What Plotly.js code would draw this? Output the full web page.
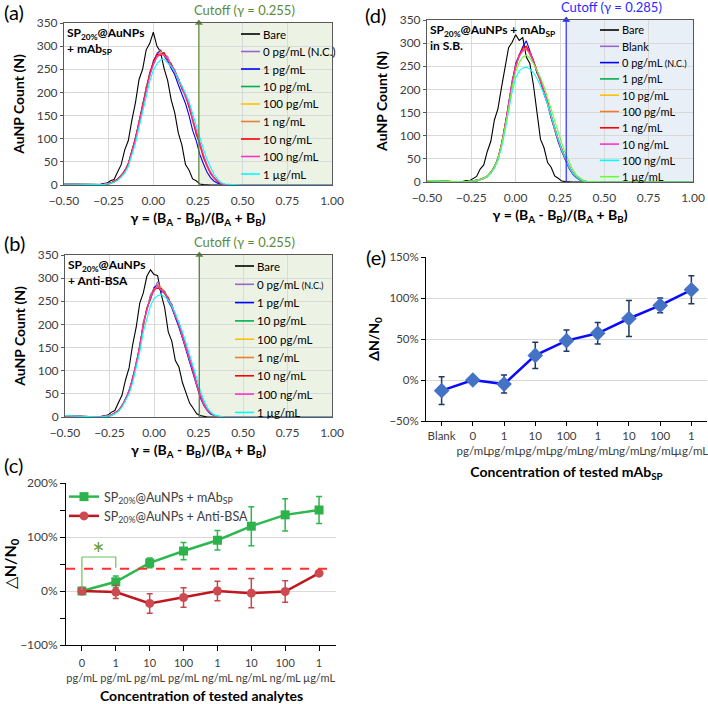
<!DOCTYPE html>
<html lang="en">
<head>
<meta charset="UTF-8">
<title>AuNP counts and ΔN/N0</title>
<script src="https://cdn.plot.ly/plotly-3.0.1.min.js"></script>
<style>
  body { margin: 0; background: #fff; }
  #chart { width: 708px; height: 704px; }
</style>
</head>
<body>
<div id="chart"></div>
<script>
// ---- data ----
const gammaBins = [-0.50, -0.40, -0.30, -0.28, -0.26, -0.24, -0.22, -0.20, -0.18, -0.16, -0.14, -0.12,
  -0.10, -0.08, -0.06, -0.04, -0.02, 0.00, 0.02, 0.04, 0.06, 0.08, 0.10, 0.12, 0.14, 0.16, 0.18, 0.20,
  0.22, 0.24, 0.26, 0.28, 0.30, 0.32, 0.34, 0.36, 0.38, 0.40, 0.50, 1.00];

// (a) SP20%@AuNPs + mAbSP
const aBare  = [2,1, 1,3,4,9,12,28,44,76,96,140,178,228,250,292,306,330,300,288,252,226,184,156,112,86,44,32,13,9,2,1,0,0,0,0,0,0, 0,0];
const aNC    = [2,1, 1,0,3,3,8,11,22,28,48,70,104,132,176,204,244,266,285,292,280,278,256,250,224,214,188,174,136,116,84,64,40,28,13,9,2,1, 0,0];
const a1pg   = [2,1, 0,2,1,5,6,13,19,32,44,75,98,138,168,212,236,268,282,290,280,268,252,238,216,196,176,150,118,96,66,46,28,16,8,4,2,0, 0,0];
const a10pg  = [2,1, 1,1,2,4,8,11,21,29,47,70,103,133,172,206,241,259,281,283,286,270,263,243,231,207,195,168,143,110,90,60,44,25,16,7,3,1, 0,0];
const a100pg = [2,1, 0,1,3,3,7,13,19,31,44,74,98,137,168,210,236,264,276,288,280,274,258,247,226,212,190,172,138,114,86,64,40,27,14,8,3,1, 0,0];
const a1ng   = [2,1, 1,1,2,5,6,12,21,30,46,71,101,134,171,207,239,261,279,284,284,271,261,244,229,209,193,169,141,111,89,61,43,26,15,8,3,1, 0,0];
const a10ng  = [2,1, 0,2,2,4,8,13,20,31,46,73,102,137,173,210,242,265,282,280,286,270,262,242,230,208,194,168,142,110,90,60,43,25,16,7,4,1, 0,0];
const a100ng = [2,1, 1,1,3,4,7,11,19,29,44,70,98,133,168,205,236,260,276,283,280,274,258,248,230,214,194,174,144,116,92,66,45,28,16,9,3,1, 0,0];
const a1ug   = [2,1, 0,1,2,3,6,10,17,26,40,64,90,124,158,194,224,248,262,270,272,264,256,244,230,214,198,180,154,128,104,78,56,38,22,12,5,2, 0,0];

// (b) SP20%@AuNPs + Anti-BSA
const bBare  = [3,1, 1,3,4,10,14,31,47,80,106,156,194,246,268,304,318,308,306,266,236,184,164,122,108,74,52,30,19,7,3,1,0,0,0,0,0,0, 0,0];
const bNC    = [3,1, 1,0,3,3,9,13,26,36,59,80,119,150,206,230,264,276,292,278,272,252,244,216,204,170,154,120,104,68,48,26,16,7,4,1,0,0, 0,0];
const b1pg   = [3,1, 0,2,1,5,7,15,23,40,54,86,112,156,198,236,254,280,284,270,270,250,236,216,194,170,144,120,94,66,42,25,13,6,3,1,0,0, 0,0];
const b10pg  = [3,1, 1,1,2,4,9,13,25,37,58,80,118,150,203,230,262,272,284,274,272,254,244,218,204,173,154,123,104,70,48,27,16,8,3,1,0,0, 0,0];
const b100pg = [3,1, 0,1,3,4,7,15,23,39,55,84,113,155,198,234,256,277,278,280,266,259,238,223,198,178,148,127,98,74,45,29,14,9,3,1,0,0, 0,0];
const b1ng   = [3,1, 1,1,2,5,8,14,25,37,57,81,117,150,202,230,260,272,286,274,270,254,242,218,202,173,152,123,102,70,47,27,15,8,3,1,0,0, 0,0];
const b10ng  = [3,1, 0,2,2,4,9,14,23,39,55,84,114,154,199,234,257,276,278,278,266,258,238,222,198,177,148,127,98,74,45,29,15,8,3,1,0,0, 0,0];
const b100ng = [3,1, 1,1,2,4,8,13,24,38,57,81,116,151,201,231,259,273,282,275,269,255,241,219,201,174,151,124,101,71,47,28,15,8,3,1,0,0, 0,0];
const b1ug   = [3,1, 0,1,2,3,7,12,21,34,50,74,104,140,184,214,240,256,262,264,260,252,240,224,206,184,160,136,112,84,58,36,20,10,4,2,1,0, 0,0];

// (d) SP20%@AuNPs + mAbSP in S.B.
const dBare   = [3,1, 1,3,3,8,12,28,37,66,88,134,158,204,246,290,302,318,306,312,270,256,210,154,92,74,42,32,13,8,2,1,0,0,0,0,0,0, 0,0];
const dBlank  = [3,1, 0,1,0,2,4,5,9,11,22,30,53,78,124,162,220,247,276,282,292,275,264,236,222,192,174,139,118,88,72,48,35,19,13,5,3,1, 0,0];
const dNC     = [3,1, 0,0,1,3,2,6,7,13,19,34,48,83,118,170,212,256,274,292,305,284,262,236,220,190,168,138,112,86,66,46,30,18,10,5,2,1, 0,0];
const d1pg    = [3,1, 0,1,1,2,4,5,9,12,21,32,51,80,121,166,214,251,271,286,287,279,259,241,217,196,169,143,114,91,69,51,33,21,11,6,3,1, 0,0];
const d10pg   = [3,1, 0,0,2,2,3,6,8,13,20,33,50,82,119,167,213,252,270,288,285,281,258,243,216,198,168,145,113,93,68,53,32,22,11,7,2,1, 0,0];
const d100pg  = [3,1, 0,1,1,3,3,5,9,12,22,31,52,79,122,164,217,249,274,283,290,276,262,239,220,194,172,141,117,89,72,49,35,20,13,6,3,1, 0,0];
const d1ng    = [3,1, 0,0,1,2,4,6,8,13,20,33,50,81,120,167,215,252,273,289,294,280,262,240,220,196,172,143,117,91,71,51,34,21,12,6,3,1, 0,0];
const d10ng   = [3,1, 0,1,2,2,3,5,9,12,21,32,51,80,121,165,216,250,272,284,287,279,260,242,218,197,171,144,116,92,70,52,35,21,12,7,3,1, 0,0];
const d100ng  = [3,1, 0,0,1,2,3,5,8,12,19,30,47,74,110,150,195,225,240,246,248,244,236,224,208,190,168,142,116,92,70,50,34,20,12,6,3,1, 0,0];
const d1ug    = [3,1, 0,1,1,2,3,6,8,13,20,32,50,78,116,158,204,238,258,270,274,268,256,242,226,206,184,158,132,106,84,62,44,28,16,9,4,1, 0,0];

const namesA = ['Bare', '0 pg/mL (N.C.)', '1 pg/mL', '10 pg/mL', '100 pg/mL', '1 ng/mL', '10 ng/mL', '100 ng/mL', '1 µg/mL'];
const namesB = ['Bare', '0 pg/mL <span style="font-size:9px">(N.C.)</span>', '1 pg/mL', '10 pg/mL', '100 pg/mL', '1 ng/mL', '10 ng/mL', '100 ng/mL', '1 µg/mL'];
const namesD = ['Bare', 'Blank', '0 pg/mL <span style="font-size:9px">(N.C.)</span>', '1 pg/mL', '10 pg/mL', '100 pg/mL', '1 ng/mL', '10 ng/mL', '100 ng/mL', '1 µg/mL'];
const cutoffA = 0.255, cutoffB = 0.255, cutoffD = 0.285;

// (c) delta N / N0 vs analyte concentration
const concC = ['0<br>pg/mL', '1<br>pg/mL', '10<br>pg/mL', '100<br>pg/mL', '1<br>ng/mL', '10<br>ng/mL', '100<br>ng/mL', '1<br>µg/mL'];
const mAbSP = [0, 17, 52, 74, 94, 120, 141, 150];
const mAbSPErr = [0, 11, 9, 16, 18, 36, 30, 25];
const antiBSA = [0, -2, -23, -12, 0, -4, -1, 33];
const antiBSAErr = [0, 12, 18, 18, 18, 27, 20, 0];
const thresholdC = 41;
const sigPair = [0, 1], sigTop = 63, sigRightFoot = 43, sigLeftFoot = 2;

// (e) delta N / N0 in S.B.
const concE = ['Blank', '0<br>pg/mL', '1<br>pg/mL', '10<br>pg/mL', '100<br>pg/mL', '1<br>ng/mL', '10<br>ng/mL', '100<br>ng/mL', '1<br>µg/mL'];
const sbValues = [-13, 0, -5, 30, 48, 57, 75, 91, 110];
const sbErr = [17, 0, 11, 16, 13, 13, 22, 9, 17];

// ---- drawing ----
const W = 708, H = 704;
const fx = p => p / W;
const fy = p => 1 - p / H;
const FONT = 'Lato, "Open Sans", sans-serif';
const INK = '#404040';
const colorsA = ['#000000', '#9966cc', '#0000ff', '#00b050', '#ffc000', '#ed7d31', '#ff0000', '#ff33cc', '#00ffff'];
const colorsD = ['#000000', '#9966cc', '#0000ff', '#00b050', '#ffc000', '#ed7d31', '#ff0000', '#ff33cc', '#00ffff', '#66ff33'];
const GAMMA = '<b>γ = (B<sub>A</sub> - B<sub>B</sub>)/(B<sub>A</sub> + B<sub>B</sub>)</b>';

const traces = [], shapes = [], annotations = [];
const layout = {
  width: W, height: H,
  margin: { l: 0, r: 0, t: 0, b: 0 },
  paper_bgcolor: '#fff', plot_bgcolor: 'rgba(0,0,0,0)',
  font: { family: FONT, color: INK },
  showlegend: true,
  shapes: shapes, annotations: annotations
};

function histPanel(n, counts, names, colors, cutoff, cutColor, shade, box, key, tag, cutText) {
  const xr = 'x' + n, yr = 'y' + n;
  const xk = 'xaxis' + n, yk = 'yaxis' + n;
  layout[xk] = {
    domain: [fx(box[0]), fx(box[1])], anchor: yr, range: [-0.5, 1.0], dtick: 0.25, tickformat: '.2f',
    showline: true, mirror: true, linecolor: '#595959', gridcolor: '#d9d9d9', zeroline: false,
    tickangle: 0, ticklabelstandoff: 5,
    tickfont: { size: 12, color: INK },
    title: { text: GAMMA, font: { size: 14, color: '#000' }, standoff: 5 }
  };
  layout[yk] = {
    domain: [fy(box[3]), fy(box[2])], anchor: xr, range: [0, 350], dtick: 50,
    showline: true, mirror: true, linecolor: '#595959', gridcolor: '#d9d9d9', zeroline: false,
    ticks: 'outside', ticklen: 3, tickcolor: '#595959',
    tickfont: { size: 12, color: INK },
    title: { text: '<b>AuNP Count (N)</b>', font: { size: 14, color: '#000' }, standoff: 8 }
  };
  shapes.push({ type: 'rect', xref: xr, yref: yr + ' domain', x0: cutoff, x1: 1, y0: 0, y1: 1,
    fillcolor: shade, line: { width: 0 }, layer: 'below' });
  shapes.push({ type: 'line', xref: xr, yref: yr + ' domain', x0: cutoff, x1: cutoff, y0: 0, y1: 1,
    line: { color: cutColor, width: 1.2 } });
  counts.forEach((c, i) => traces.push({
    x: gammaBins, y: c, xaxis: xr, yaxis: yr, type: 'scatter', mode: 'lines',
    line: { color: colors[i], width: 1.1 }, showlegend: false, hoverinfo: 'skip'
  }));
  traces.push({ x: [cutoff], y: [350], xaxis: xr, yaxis: yr, type: 'scatter', mode: 'markers',
    marker: { symbol: 'triangle-up', size: 7, color: cutColor }, cliponaxis: false,
    showlegend: false, hoverinfo: 'skip' });
  // key drawn by hand so the rows can sit as tight as in the original
  names.forEach((name, i) => {
    const yy = fy(key.top + i * key.step);
    shapes.push({ type: 'line', xref: 'paper', yref: 'paper', x0: fx(key.x), x1: fx(key.x + 19), y0: yy, y1: yy,
      line: { color: colors[i], width: 1.6 } });
    annotations.push({ xref: 'paper', yref: 'paper', x: fx(key.x + 20), y: yy, xanchor: 'left', yanchor: 'middle',
      text: name, showarrow: false, font: { size: key.size, color: '#000' } });
  });
  annotations.push({ xref: xr + ' domain', yref: yr + ' domain', x: 0.005, y: 1, xanchor: 'left', yanchor: 'top',
    align: 'left', text: tag, showarrow: false, font: { size: 12, color: '#000' } });
  annotations.push({ xref: xr, yref: 'paper', x: cutoff, xshift: -7, y: fy(cutText), xanchor: 'left', yanchor: 'middle',
    text: 'Cutoff (γ = ' + cutoff + ')', showarrow: false, font: { size: 13, color: cutColor } });
}

histPanel('', [aBare, aNC, a1pg, a10pg, a100pg, a1ng, a10ng, a100ng, a1ug], namesA, colorsA,
  cutoffA, '#5b8a3a', 'rgba(200,220,180,0.35)', [64, 332, 23, 185],
  { x: 241, top: 34, step: 17.5, size: 11.5 },
  '<b>SP<sub>20%</sub>@AuNPs<br>+ mAb<sub>SP</sub></b>', 10);
histPanel('2', [bBare, bNC, b1pg, b10pg, b100pg, b1ng, b10ng, b100ng, b1ug], namesB, colorsA,
  cutoffB, '#5b8a3a', 'rgba(200,220,180,0.35)', [65, 332, 255, 417],
  { x: 235, top: 266, step: 18.3, size: 11.5 },
  '<b>SP<sub>20%</sub>@AuNPs<br>+ Anti-BSA</b>', 242);
histPanel('4', [dBare, dBlank, dNC, d1pg, d10pg, d100pg, d1ng, d10ng, d100ng, d1ug], namesD, colorsD,
  cutoffD, '#2a2aff', 'rgba(200,215,235,0.4)', [427, 693, 20, 182],
  { x: 600, top: 30, step: 16.3, size: 11 },
  '<b>SP<sub>20%</sub>@AuNPs + mAb<sub>SP</sub><br>in S.B.</b>', 7);

// (c)
const green = '#2db84d', red = '#c0161e';
traces.push({
  x: concC, y: mAbSP, xaxis: 'x3', yaxis: 'y3', type: 'scatter', mode: 'lines+markers',
  name: 'SP<sub>20%</sub>@AuNPs + mAb<sub>SP</sub>',
  line: { color: green, width: 2.5 }, marker: { symbol: 'square', size: 9, color: '#2eb24c' },
  error_y: { type: 'data', array: mAbSPErr, visible: true, color: green, thickness: 1.5, width: 3 }
});
traces.push({
  x: concC, y: antiBSA, xaxis: 'x3', yaxis: 'y3', type: 'scatter', mode: 'lines+markers',
  name: 'SP<sub>20%</sub>@AuNPs + Anti-BSA',
  line: { color: red, width: 2.5 }, marker: { symbol: 'circle', size: 9, color: '#cc4a50' },
  error_y: { type: 'data', array: antiBSAErr, visible: true, color: '#c8474c', thickness: 1.5, width: 3 }
});
layout.xaxis3 = {
  domain: [fx(66), fx(336)], anchor: 'y3', type: 'category', range: [-0.47, 7.5],
  showline: true, linecolor: '#000', showgrid: false, ticks: 'outside', ticklen: 5, tickcolor: '#000',
  tickangle: 0, ticklabelstandoff: 3,
  tickfont: { size: 11, color: INK }
};
annotations.push({ xref: 'x3 domain', yref: 'paper', x: 0.5, y: fy(695), xanchor: 'center', yanchor: 'middle',
  text: '<b>Concentration of tested analytes</b>', showarrow: false, font: { size: 14, color: '#000' } });
layout.yaxis3 = {
  domain: [fy(645), fy(483)], anchor: 'x3', range: [-100, 200], dtick: 100, ticksuffix: '%',
  showline: true, linecolor: '#000', gridcolor: '#d9d9d9', zeroline: false,
  ticks: 'outside', ticklen: 5, tickcolor: '#000',
  minor: { dtick: 50, ticks: 'outside', ticklen: 5, tickcolor: '#000', showgrid: false },
  tickfont: { size: 12, color: INK },
  title: { text: '△<b>N/N<sub>0</sub></b>', font: { size: 16, color: '#000' }, standoff: 6 }
};
layout.legend = {
  x: fx(64), y: fy(482), xanchor: 'left', yanchor: 'top', bgcolor: 'rgba(0,0,0,0)',
  font: { size: 12.5, color: INK }, tracegroupgap: 0
};
shapes.push({ type: 'line', xref: 'x3 domain', yref: 'y3', x0: 0, x1: 1, y0: thresholdC, y1: thresholdC,
  line: { color: '#ff3030', width: 2, dash: 'dash' } });
const bracket = { color: '#6cc05a', width: 1.2 };
shapes.push({ type: 'line', xref: 'x3', yref: 'y3', x0: sigPair[0], x1: sigPair[0], y0: sigLeftFoot, y1: sigTop, line: bracket });
shapes.push({ type: 'line', xref: 'x3', yref: 'y3', x0: sigPair[0], x1: sigPair[1], y0: sigTop, y1: sigTop, line: bracket });
shapes.push({ type: 'line', xref: 'x3', yref: 'y3', x0: sigPair[1], x1: sigPair[1], y0: sigTop, y1: sigRightFoot, line: bracket });
annotations.push({ xref: 'x3', yref: 'y3', x: (sigPair[0] + sigPair[1]) / 2, y: sigTop, yanchor: 'bottom', yshift: -16,
  text: '*', showarrow: false, font: { size: 30, color: '#6e9a35' } });

// (e)
traces.push({
  x: concE, y: sbValues, xaxis: 'x5', yaxis: 'y5', type: 'scatter', mode: 'lines+markers', showlegend: false,
  line: { color: '#0a0aff', width: 2.5 }, marker: { symbol: 'diamond', size: 12, color: '#4472c4' },
  error_y: { type: 'data', array: sbErr, visible: true, color: '#1f3864', thickness: 1.5, width: 3 }
});
layout.xaxis5 = {
  domain: [fx(426), fx(707)], anchor: 'y5', type: 'category', range: [-0.5, 8.5],
  showline: true, linecolor: '#000', showgrid: false, ticks: 'outside', ticklen: 4, tickcolor: '#000',
  tickangle: 0, ticklabelstandoff: 0,
  tickfont: { size: 11.5, color: INK },
  title: { text: '<b>Concentration of tested mAb<sub>SP</sub></b>', font: { size: 14, color: '#000' }, standoff: 11 }
};
layout.yaxis5 = {
  domain: [fy(421), fy(257)], anchor: 'x5', range: [-50, 150], dtick: 50, ticksuffix: '%',
  showline: true, linecolor: '#000', gridcolor: '#d9d9d9', zeroline: false,
  ticks: 'outside', ticklen: 4, tickcolor: '#000',
  tickfont: { size: 11.5, color: INK },
  title: { text: '<b>ΔN/N<sub>0</sub></b>', font: { size: 14, color: '#000' }, standoff: 6 }
};

// panel tags
[['(a)', 2, 12], ['(b)', 2, 243], ['(c)', 2, 465], ['(d)', 363, 15], ['(e)', 364, 257]].forEach(t =>
  annotations.push({ xref: 'paper', yref: 'paper', x: fx(t[1]), y: fy(t[2]), xanchor: 'left', yanchor: 'middle',
    text: t[0], showarrow: false, font: { size: 20, color: '#000' } }));

Plotly.newPlot('chart', traces, layout, { displayModeBar: false, staticPlot: true });
</script>
</body>
</html>
